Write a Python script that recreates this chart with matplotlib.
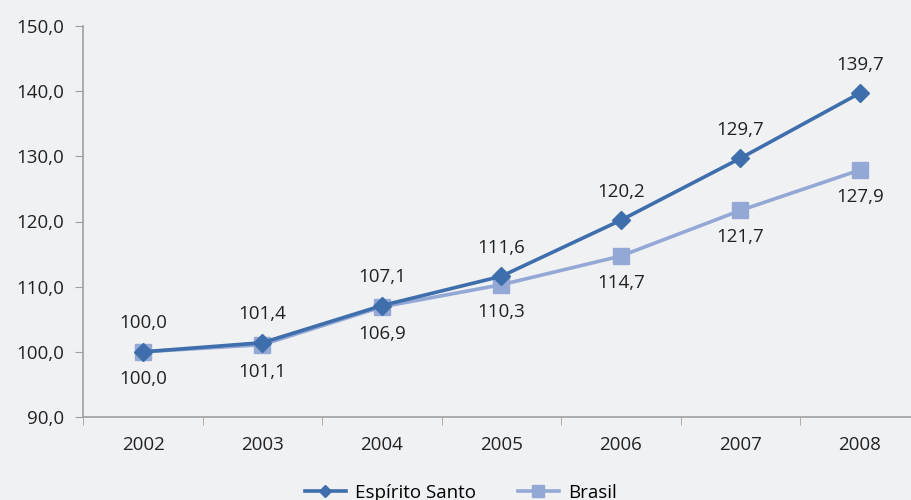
import matplotlib.pyplot as plt

plt.rcParams["font.family"] = ["Open Sans", "DejaVu Sans"]
plt.rcParams["font.size"] = 13.5

anos = ["2002", "2003", "2004", "2005", "2006", "2007", "2008"]
espirito_santo = [100.0, 101.4, 107.1, 111.6, 120.2, 129.7, 139.7]
brasil = [100.0, 101.1, 106.9, 110.3, 114.7, 121.7, 127.9]

bg = "#f0f1f3"
cor_es = "#3e6eab"
cor_br = "#94a8d6"
cinza = "#a0a0a0"
texto = "#222222"

fig = plt.figure(figsize=(9.11, 5), dpi=100, facecolor=bg)
ax = fig.add_axes([0.0914, 0.166, 0.918, 0.782], facecolor=bg)

x = range(len(anos))
ax.plot(x, espirito_santo, color=cor_es, lw=2.6, marker="D", ms=9,
        label="Espírito Santo", zorder=3)
ax.plot(x, brasil, color=cor_br, lw=2.6, marker="s", ms=12,
        label="Brasil", zorder=2)

def fmt(v):
    return f"{v:.1f}".replace(".", ",")

# rótulos: Espírito Santo acima, Brasil abaixo
for i, v in enumerate(espirito_santo):
    ax.annotate(fmt(v), (i, v), xytext=(0, 14), textcoords="offset points",
                ha="center", va="bottom", color=texto)
for i, v in enumerate(brasil):
    ax.annotate(fmt(v), (i, v), xytext=(0, -13), textcoords="offset points",
                ha="center", va="top", color=texto)

ax.set_ylim(90, 150)
ax.set_yticks(range(90, 151, 10))
ax.set_yticklabels([fmt(t) for t in range(90, 151, 10)])
ax.set_xlim(-0.5, 6.5)
ax.set_xticks(list(x))
ax.set_xticklabels(anos)
ax.set_xticks([i - 0.5 for i in range(8)], minor=True)
ax.tick_params(axis="x", which="major", length=0, pad=14)
ax.tick_params(axis="x", which="minor", length=6, color=cinza)
ax.tick_params(axis="y", length=6, color=cinza, pad=8)
ax.tick_params(labelsize=13.5, labelcolor=texto)

for s in ["top", "right"]:
    ax.spines[s].set_visible(False)
for s in ["left", "bottom"]:
    ax.spines[s].set_color(cinza)
    ax.spines[s].set_linewidth(1.2)

fig.legend(loc="center", bbox_to_anchor=(0.506, 0.015), ncol=2, frameon=False,
           fontsize=13.5, handlelength=2.2, handletextpad=0.5,
           columnspacing=2.2, markerscale=0.7)

plt.savefig("out.png", dpi=100, facecolor=bg)
